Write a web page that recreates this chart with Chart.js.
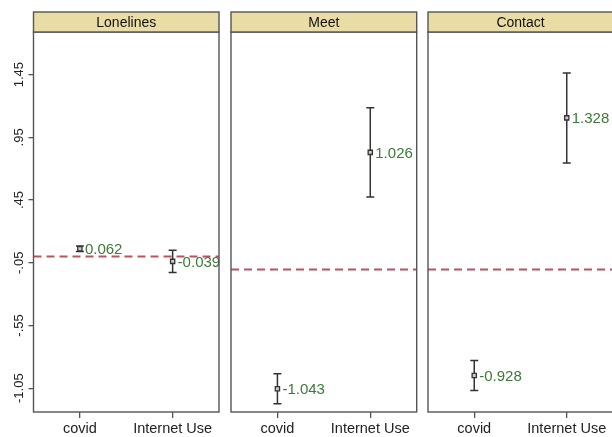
<!DOCTYPE html>
<html>
<head>
<meta charset="utf-8">
<script src="https://cdn.jsdelivr.net/npm/chart.js@4.4.1/dist/chart.umd.min.js"></script>
<style>
  html, body { margin: 0; padding: 0; background: #fff; overflow: hidden; }
  #wrap { position: relative; width: 612px; height: 437px; overflow: hidden; }
  canvas { position: absolute; top: 0; }
</style>
</head>
<body>
<div id="wrap">
  <canvas id="c1" width="224" height="437" style="left:0px"></canvas>
  <canvas id="c2" width="200" height="437" style="left:220px"></canvas>
  <canvas id="c3" width="196" height="437" style="left:420px"></canvas>
</div>
<script>
// data
const categories = ['covid', 'Internet Use'];
const panelTitles = ['Lonelines', 'Meet', 'Contact'];

const lonelinesCoef = [0.062, -0.039];
const lonelinesLo = [0.040, -0.128];
const lonelinesHi = [0.084, 0.050];

const meetCoef = [-1.043, 1.026];
const meetLo = [-1.174, 0.636];
const meetHi = [-0.912, 1.416];

const contactCoef = [-0.928, 1.328];
const contactLo = [-1.059, 0.934];
const contactHi = [-0.797, 1.722];

const yTickValues = [1.45, 0.95, 0.45, -0.05, -0.55, -1.05];
const yTickLabels = ['1.45', '.95', '.45', '-.05', '-.55', '-1.05'];

const FONT = '"Liberation Sans", Arial, sans-serif';
const GREEN = '#3b7a37';
const FRAME = '#555';

// error bars, value labels, frame and header strip
const panelPlugin = {
  id: 'panel',
  afterDatasetDraw(chart, args) {
    if (args.index !== 0) return;
    const { ctx, scales: { x, y } } = chart;
    const p = chart.options.plugins.panel;
    ctx.save();
    ctx.strokeStyle = '#333';
    ctx.lineWidth = 1.5;
    p.coef.forEach((v, i) => {
      const px = x.getPixelForValue(i + 1);
      const top = y.getPixelForValue(p.hi[i]);
      const bot = y.getPixelForValue(p.lo[i]);
      ctx.beginPath();
      ctx.moveTo(px, top); ctx.lineTo(px, bot);
      ctx.moveTo(px - 4, top); ctx.lineTo(px + 4, top);
      ctx.moveTo(px - 4, bot); ctx.lineTo(px + 4, bot);
      ctx.stroke();
    });
    ctx.restore();
  },
  afterDraw(chart) {
    const { ctx, chartArea: a, scales: { x, y } } = chart;
    const p = chart.options.plugins.panel;
    ctx.save();
    // value labels
    ctx.fillStyle = GREEN;
    ctx.font = '15px ' + FONT;
    ctx.textAlign = 'left';
    ctx.textBaseline = 'middle';
    p.coef.forEach((v, i) => {
      const px = x.getPixelForValue(i + 1);
      const py = y.getPixelForValue(v);
      ctx.fillText(v.toFixed(3), px + 5, py + 1);
    });
    // frame
    ctx.strokeStyle = FRAME;
    ctx.lineWidth = 1.4;
    ctx.strokeRect(a.left, a.top, a.right - a.left, a.bottom - a.top);
    // header strip
    ctx.fillStyle = '#eadca5';
    ctx.fillRect(a.left, 12, a.right - a.left, a.top - 12);
    ctx.strokeRect(a.left, 12, a.right - a.left, a.top - 12);
    ctx.fillStyle = '#111';
    ctx.font = '14px ' + FONT;
    ctx.textAlign = 'center';
    ctx.fillText(p.title, (a.left + a.right) / 2, (12 + a.top) / 2 + 1);
    // rotated y labels
    if (p.showY) {
      ctx.fillStyle = '#222';
      ctx.font = '13px ' + FONT;
      yTickValues.forEach((v, i) => {
        const py = y.getPixelForValue(v);
        ctx.save();
        ctx.translate(19, py);
        ctx.rotate(-Math.PI / 2);
        ctx.textAlign = 'center';
        ctx.textBaseline = 'middle';
        ctx.fillText(yTickLabels[i], 0, 0);
        ctx.restore();
      });
    }
    ctx.restore();
  }
};

function makePanel(id, title, coef, lo, hi, yMin, yMax, showY, pad) {
  const points = coef.map((v, i) => ({ x: i + 1, y: v }));
  new Chart(document.getElementById(id), {
    type: 'scatter',
    data: {
      datasets: [
        {
          type: 'line',
          data: [{ x: 0.5, y: 0 }, { x: 2.5, y: 0 }],
          borderColor: '#c0505e',
          borderWidth: 2,
          borderDash: [8, 5],
          pointRadius: 0,
          order: 2
        },
        {
          data: points,
          pointStyle: 'rect',
          pointRadius: 3,
          borderWidth: 1.3,
          borderColor: '#333',
          backgroundColor: '#ccc',
          order: 1
        }
      ]
    },
    options: {
      responsive: false,
      animation: false,
      devicePixelRatio: 1,
      layout: { padding: pad, autoPadding: false },
      plugins: {
        legend: { display: false },
        tooltip: { enabled: false },
        panel: { title, coef, lo, hi, showY }
      },
      scales: {
        x: {
          type: 'linear',
          min: 0.5,
          max: 2.5,
          afterBuildTicks: s => { s.ticks = categories.map((c, i) => ({ value: i + 1 })); },
          afterFit: s => { s.height = 25; s.paddingLeft = 0; s.paddingRight = 0; },
          ticks: {
            autoSkip: false,
            maxRotation: 0,
            minRotation: 0,
            padding: 2,
            color: '#222',
            font: { family: FONT, size: 14.5 },
            callback: v => categories[Math.round(v) - 1]
          },
          grid: { drawOnChartArea: false, tickLength: 6, color: FRAME, lineWidth: 1.3 },
          border: { display: false }
        },
        y: {
          display: showY,
          min: yMin,
          max: yMax,
          afterBuildTicks: s => { s.ticks = yTickValues.map(v => ({ value: v })); },
          afterFit: s => { if (showY) s.width = 33.5; s.paddingTop = 0; s.paddingBottom = 0; },
          ticks: { display: false },
          grid: { drawOnChartArea: false, tickLength: 5, color: FRAME, lineWidth: 1.3 },
          border: { display: false }
        }
      }
    },
    plugins: [panelPlugin]
  });
}

makePanel('c1', panelTitles[0], lonelinesCoef, lonelinesLo, lonelinesHi, -1.24, 1.79, true,
  { top: 32, right: 5, left: 0, bottom: 0 });
makePanel('c2', panelTitles[1], meetCoef, meetLo, meetHi, -1.247, 2.08, false,
  { top: 32, right: 3.3, left: 11, bottom: 0 });
makePanel('c3', panelTitles[2], contactCoef, contactLo, contactHi, -1.247, 2.08, false,
  { top: 32, right: 3, left: 8, bottom: 0 });
</script>
</body>
</html>
